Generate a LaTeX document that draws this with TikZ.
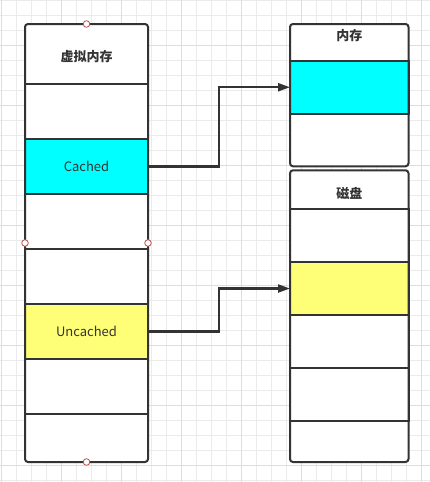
\documentclass[tikz,border=0pt]{standalone}
\usepackage{fontspec}
\setmainfont{Noto Sans CJK SC}
\usetikzlibrary{arrows.meta}
\definecolor{ln}{HTML}{333333}
\definecolor{gridminor}{HTML}{EBEBEB}
\definecolor{gridmajor}{HTML}{DDDDDD}
\definecolor{cyanfill}{HTML}{00FFFF}
\definecolor{yellowfill}{HTML}{FFFF77}
\definecolor{handle}{HTML}{B85450}
\begin{document}
\begin{tikzpicture}[x=1pt,y=-1pt,
  frameback/.style={fill=white, rounded corners=3pt, inner sep=0pt, outer sep=0pt},
  frameline/.style={draw=ln, line width=2pt, rounded corners=3pt, inner sep=0pt, outer sep=0pt},
  cell/.style={draw=ln, line width=2pt, inner sep=0pt, outer sep=0pt, text=ln, font=\fontsize{13}{15}\selectfont},
  headtext/.style={inner sep=0pt, text=ln, font=\fontsize{13}{15}\selectfont\bfseries},
  conn/.style={draw=ln, line width=2.2pt, -{Triangle[length=12pt,width=8pt]}},
  hnd/.style={circle, draw=handle, fill=white, line width=0.8pt, minimum size=6.6pt, inner sep=0pt}]
\useasboundingbox (0,0) rectangle (430,482);
\fill[white] (0,0) rectangle (430,482);
% grid
\foreach \i in {0,...,28} \draw[gridminor, line width=1pt] (1.7+15*\i,0) -- (1.7+15*\i,482);
\foreach \j in {0,...,32} \draw[gridminor, line width=1pt] (0,0.7+15*\j) -- (430,0.7+15*\j);
\foreach \i in {0,...,7} \draw[gridmajor, line width=1pt] (1.7+60*\i,0) -- (1.7+60*\i,482);
\foreach \j in {0,...,7} \draw[gridmajor, line width=1pt] (0,45.7+60*\j) -- (430,45.7+60*\j);

% ---- virtual memory ----
\node[frameback, minimum width=123pt, minimum height=438pt] (vmback) at (86.5,243) {};
\node[cell, minimum width=123pt, minimum height=55pt] (v1) at (86.5,111.5) {};
\node[cell, minimum width=123pt, minimum height=55pt, fill=cyanfill] (cached) at (86.5,166.5) {Cached};
\node[cell, minimum width=123pt, minimum height=55pt] (v3) at (86.5,221.5) {};
\node[cell, minimum width=123pt, minimum height=55pt] (v4) at (86.5,276.5) {};
\node[cell, minimum width=123pt, minimum height=55pt, fill=yellowfill] (uncached) at (86.5,331.5) {Uncached};
\node[cell, minimum width=123pt, minimum height=55pt] (v6) at (86.5,386.5) {};
\node[frameline, minimum width=123pt, minimum height=438pt] (vm) at (86.5,243) {};
\node[headtext] (vmtitle) at (86.5,57) {虚拟内存};

% ---- memory ----
\node[frameback, minimum width=118.5pt, minimum height=142.3pt] (memback) at (349.25,95.15) {};
\node[cell, minimum width=118.5pt, minimum height=52.5pt, fill=cyanfill] (m1) at (349.25,87.25) {};
\node[frameline, minimum width=118.5pt, minimum height=142.3pt] (mem) at (349.25,95.15) {};
\node[headtext] (memtitle) at (349.25,36) {内存};

% ---- disk ----
\node[frameback, minimum width=118.5pt, minimum height=291.7pt] (diskback) at (349.25,316.15) {};
\node[cell, minimum width=118.5pt, minimum height=52.7pt] (d1) at (349.25,235.65) {};
\node[cell, minimum width=118.5pt, minimum height=53pt, fill=yellowfill] (d2) at (349.25,288.5) {};
\node[cell, minimum width=118.5pt, minimum height=53pt] (d3) at (349.25,341.5) {};
\node[cell, minimum width=118.5pt, minimum height=53pt] (d4) at (349.25,394.5) {};
\node[frameline, minimum width=118.5pt, minimum height=291.7pt] (disk) at (349.25,316.15) {};
\node[headtext] (disktitle) at (349.25,193) {磁盘};

% ---- connectors ----
\draw[conn] (cached.east) -- ++(71,0) |- (m1.west);
\draw[conn] (uncached.east) -- ++(71,0) |- (d2.west);

% ---- selection handles ----
\node[hnd] (h1) at (vm.north) {};
\node[hnd] (h2) at (vm.south) {};
\node[hnd] (h3) at (vm.west) {};
\node[hnd] (h4) at (vm.east) {};
\end{tikzpicture}
\end{document}
